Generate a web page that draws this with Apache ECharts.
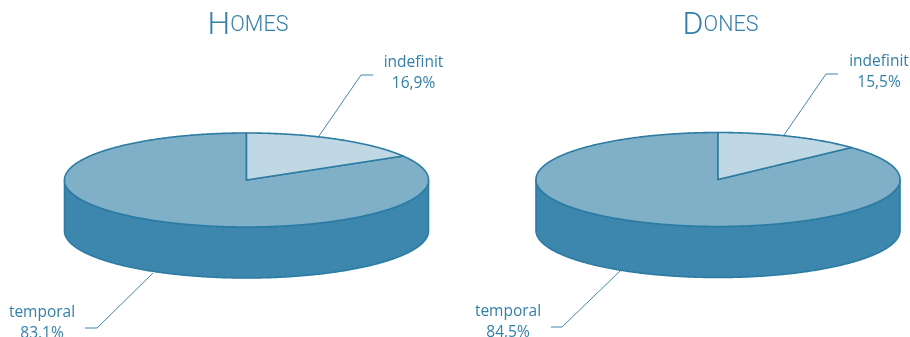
<!DOCTYPE html>
<html>
<head>
<meta charset="utf-8">
<style>
	html, body { margin: 0; padding: 0; background: #fff; }
	#main { width: 910px; height: 337px; }
</style>
<script src="https://cdn.jsdelivr.net/npm/echarts@6/dist/echarts.min.js"></script>
</head>
<body>
<div id="main"></div>
<script>
var categories = ['indefinit', 'temporal'];
// mides de les porcions tal com estan dibuixades: a l'original no coincideixen
// del tot amb les etiquetes (sobretot Dones, dibuixada amb un 13% i no un 15,5%)
var homesValues = [16.5, 83.5];
var donesValues = [13.1, 86.9];
var homesLabels = ['16,9%', '83,1%'];
var donesLabels = ['15,5%', '84,5%'];

var lineColor = '#2b7ba3';
var textColor = '#3280a8';
var topColors = ['#c0d7e4', '#80b0c8'];
var wallColor = '#3d87ae';

var fontName = '"Open Sans", "Noto Sans", sans-serif';
var titleFont = 'Roboto, "Open Sans", sans-serif';

// punt de la vora de l'el·lipse, angle en graus des de dalt i en sentit horari
function edgePoint(p, deg, dy) {
	var a = deg * Math.PI / 180;
	return [p.cx + p.rx * Math.sin(a), p.cy - p.ry * Math.cos(a) + (dy || 0)];
}

function arcPoints(p, from, to, dy) {
	var pts = [];
	var steps = Math.max(2, Math.ceil(Math.abs(to - from) / 0.5));
	for (var i = 0; i <= steps; i++) {
		pts.push(edgePoint(p, from + (to - from) * i / steps, dy));
	}
	return pts;
}

function pieSeries(name, values, labels, p) {
	var total = values.reduce(function(a, b) { return a + b; }, 0);
	return {
		name: name,
		type: 'custom',
		coordinateSystem: 'none',
		silent: true,
		data: values.map(function(v, i) {
			return { name: categories[i], value: v };
		}),
		renderItem: function(params, api) {
			var i = params.dataIndex;
			var before = 0;
			for (var k = 0; k < i; k++) before += values[k];
			var from = before / total * 360;
			var to = (before + api.value(0)) / total * 360;
			var children = [];

			// paret frontal, només la part visible (90-270 graus)
			var wFrom = Math.max(from, 90);
			var wTo = Math.min(to, 270);
			if (wTo > wFrom) {
				var wall = arcPoints(p, wFrom, wTo, 0)
					.concat(arcPoints(p, wTo, wFrom, p.depth));
				children.push({
					type: 'polygon',
					shape: { points: wall },
					style: { fill: wallColor, stroke: lineColor, lineWidth: 1.6 }
				});
			}

			// cara superior
			var top = [[p.cx, p.cy]].concat(arcPoints(p, from, to, 0));
			children.push({
				type: 'polygon',
				z2: 5 + (values.length - i),
				shape: { points: top },
				style: { fill: topColors[i], stroke: lineColor, lineWidth: 1.6, lineJoin: 'round' }
			});

			// línia guia
			children.push({
				type: 'polyline',
				z2: 1,
				shape: { points: p.leaders[i] },
				style: { fill: null, stroke: lineColor, lineWidth: 0.9 }
			});

			// etiqueta
			children.push({
				type: 'text',
				z2: 20,
				style: {
					x: p.labelPos[i][0],
					y: p.labelPos[i][1],
					text: categories[i] + '\n' + labels[i],
					fill: textColor,
					font: '15.5px ' + fontName,
					lineHeight: 21,
					align: 'center',
					verticalAlign: 'middle'
				}
			});
			return { type: 'group', children: children };
		}
	};
}

var homesPie = {
	cx: 246.5, cy: 180, rx: 182, ry: 47, depth: 51,
	leaders: [
		[[319, 136], [361, 75], [373, 75]],
		[[153, 273], [97, 328], [85, 328]]
	],
	labelPos: [[413.5, 73.5], [42, 323.5]]
};
var donesPie = {
	cx: 718, cy: 179.5, rx: 182, ry: 47, depth: 51,
	leaders: [
		[[784, 135], [826, 74], [838, 74]],
		[[620, 271], [562, 327], [551, 327]]
	],
	labelPos: [[879, 72.5], [508, 322.5]]
};

function titleOption(first, rest, x) {
	return {
		text: '{a|' + first + '}{b|' + rest + '}',
		left: x,
		top: 5,
		textAlign: 'center',
		textStyle: {
			rich: {
				a: { fontFamily: titleFont, fontWeight: 300, fontSize: 32, color: textColor },
				b: { fontFamily: titleFont, fontWeight: 300, fontSize: 21.5, color: textColor }
			}
		}
	};
}

var chart = echarts.init(document.getElementById('main'), null, { renderer: 'canvas' });
chart.setOption({
	animation: false,
	backgroundColor: '#fff',
	title: [titleOption('H', 'OMES', 243), titleOption('D', 'ONES', 715.5)],
	series: [
		pieSeries('Homes', homesValues, homesLabels, homesPie),
		pieSeries('Dones', donesValues, donesLabels, donesPie)
	]
});
</script>
</body>
</html>
